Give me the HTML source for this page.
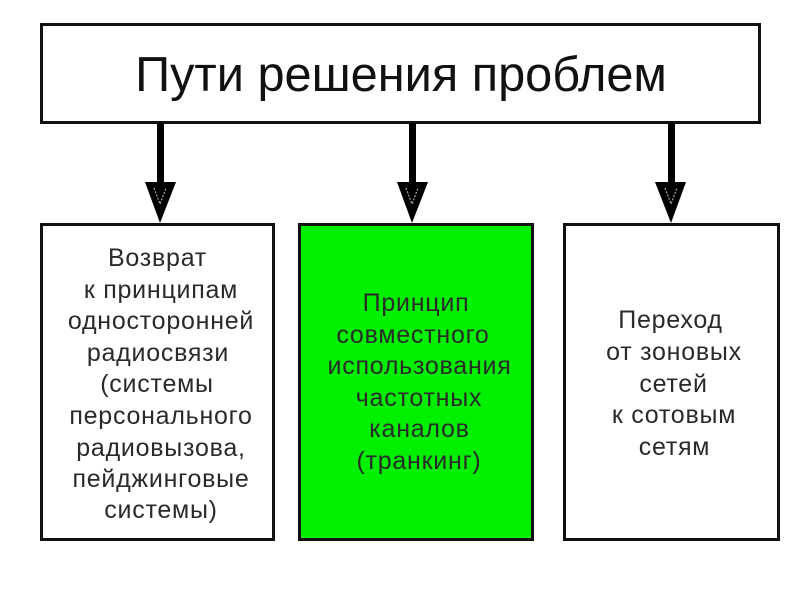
<!DOCTYPE html>
<html><head><meta charset="utf-8"><style>
html,body{margin:0;padding:0;background:#fff}
svg{display:block}
text{font-family:"Liberation Sans",sans-serif;fill:#2a2a2a;text-anchor:middle;font-size:25px;letter-spacing:.75px;filter:blur(.35px)}
</style></head><body>
<svg width="800" height="600" viewBox="0 0 800 600" xmlns="http://www.w3.org/2000/svg">
<rect width="800" height="600" fill="#fff"/>
<rect x="41.5" y="24.5" width="718" height="98" fill="#fff" stroke="#111" stroke-width="3"/>
<text x="401" y="91" style="font-size:48.7px;fill:#111;letter-spacing:0">Пути решения проблем</text>
<g fill="#000">
<rect x="157" y="123" width="7" height="60"/><polygon points="145,182 176,182 160,223"/>
<rect x="409" y="123" width="7" height="60"/><polygon points="397,182 428,182 412,223"/>
<rect x="668" y="123" width="7" height="60"/><polygon points="655,182 686,182 671,223"/>
</g>
<g fill="none" stroke="#aaa" stroke-width="1.2" stroke-dasharray="2 1.5">
<path d="M154,188 L160,204 L166,188"/>
<path d="M406,188 L412,204 L418,188"/>
<path d="M665,188 L671,204 L677,188"/>
</g>
<rect x="41.5" y="224.5" width="232" height="315" fill="#fff" stroke="#111" stroke-width="3"/>
<rect x="299.5" y="224.5" width="233" height="315" fill="#00f000" stroke="#111" stroke-width="3"/>
<rect x="564.5" y="224.5" width="214" height="315" fill="#fff" stroke="#111" stroke-width="3"/>
<text x="157.5" y="266">Возврат</text>
<text x="161" y="298">к принципам</text>
<text x="161" y="329">односторонней</text>
<text x="158" y="361">радиосвязи</text>
<text x="157" y="392">(системы</text>
<text x="161" y="424">персонального</text>
<text x="161" y="456">радиовызова,</text>
<text x="161" y="487">пейджинговые</text>
<text x="161" y="518">системы)</text>
<text x="416" y="311">Принцип</text>
<text x="413" y="343">совместного</text>
<text x="419.5" y="374">использования</text>
<text x="419" y="406">частотных</text>
<text x="419.5" y="437">каналов</text>
<text x="419" y="469">(транкинг)</text>
<text x="670.5" y="328">Переход</text>
<text x="674" y="360">от зоновых</text>
<text x="673.5" y="392">сетей</text>
<text x="674" y="423">к сотовым</text>
<text x="674.5" y="455">сетям</text>
</svg>
</body></html>
